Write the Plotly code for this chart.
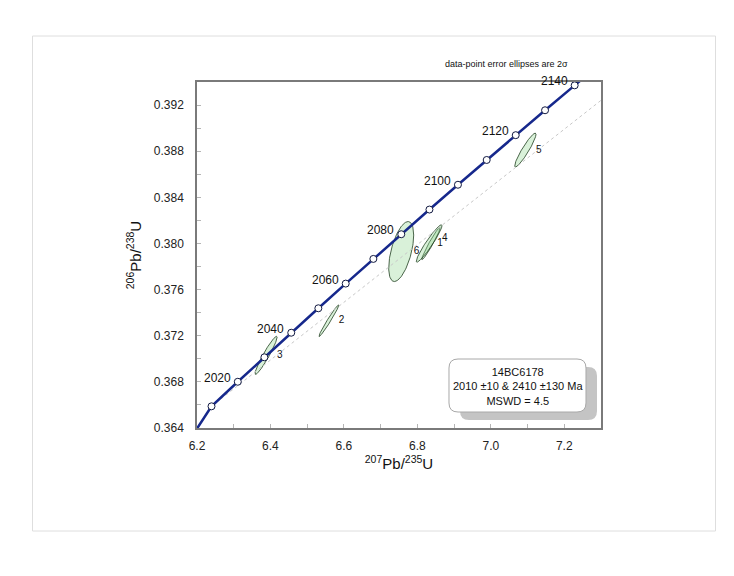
import numpy as np
import plotly.graph_objects as go

# concordia age marks (Ma) and their ratios
conc_age = [2010, 2020, 2030, 2040, 2050, 2060, 2070, 2080, 2090, 2100, 2110, 2120, 2130, 2140]
conc_x = [6.2395, 6.3111, 6.3835, 6.4566, 6.5304, 6.6049, 6.6802, 6.7562, 6.8329, 6.9105,
          6.9888, 7.0678, 7.1477, 7.2283]
conc_y = [0.36588, 0.36801, 0.37013, 0.37226, 0.37438, 0.37652, 0.37866, 0.38080, 0.38294,
          0.38509, 0.38724, 0.38939, 0.39155, 0.39371]
# curve continues a little past the first/last marks (clipped by axes)
line_x = [6.1685] + conc_x + [7.3098]
line_y = [0.36240] + conc_y + [0.39587]

# discordia: lower intercept 2010 Ma -> upper intercept 2410 Ma
disc_x = [6.2395, 9.7346]
disc_y = [0.36588, 0.45331]

# analyses (2 sigma errors)
spot = ['1', '2', '3', '4', '5', '6']
pb207_u235 = [6.837, 6.559, 6.388, 6.832, 7.094, 6.756]
pb207_err = [0.025, 0.027, 0.030, 0.035, 0.029, 0.034]
pb206_u238 = [0.3800, 0.3733, 0.3703, 0.3800, 0.3881, 0.3793]
pb206_err = [0.00140, 0.00137, 0.00165, 0.00162, 0.00147, 0.00260]
rho = [0.97, 0.98, 0.95, 0.95, 0.93, 0.55]

label_pos = ['middle center', 'middle right', 'middle right', 'top right', 'middle right', 'middle right']

FONT = 'Arial, Liberation Sans, sans-serif'
W, H = 734, 576
# plot area as seen in the page (page has an 8px body margin)
L, T, PW, PH = 197, 82, 404, 346
PAGE = 8


def px(x):
    return (x - L) / PW


def py(y):
    return (T + PH - y) / PH


def rounded_box(x0, y0, x1, y1, r):
    pts = [('M', [(x0 + r, y0)]), ('L', [(x1 - r, y0)]), ('Q', [(x1, y0), (x1, y0 + r)]),
           ('L', [(x1, y1 - r)]), ('Q', [(x1, y1), (x1 - r, y1)]), ('L', [(x0 + r, y1)]),
           ('Q', [(x0, y1), (x0, y1 - r)]), ('L', [(x0, y0 + r)]), ('Q', [(x0, y0), (x0 + r, y0)])]
    s = ''
    for cmd, p in pts:
        s += cmd + ' '.join(f'{px(a):.5f},{py(b):.5f}' for a, b in p) + ' '
    return s + 'Z'


fig = go.Figure()

t = np.linspace(0, 2 * np.pi, 120)
for i in range(len(spot)):
    ex = pb207_err[i]
    ey = pb206_err[i]
    r = rho[i]
    ex_pts = pb207_u235[i] + ex * np.cos(t)
    ey_pts = pb206_u238[i] + ey * (r * np.cos(t) + np.sqrt(1 - r ** 2) * np.sin(t))
    fig.add_trace(go.Scatter(
        x=ex_pts, y=ey_pts, mode='lines', fill='toself',
        fillcolor='rgba(150,215,150,0.36)',
        line=dict(color='#1f3f1f', width=0.8), hoverinfo='skip'
    ))

fig.add_trace(go.Scatter(
    x=[pb207_u235[i] + pb207_err[i] for i in range(len(spot))],
    y=pb206_u238, mode='text', text=spot, textposition=label_pos,
    textfont=dict(family=FONT, size=10, color='#111111')
))

fig.add_trace(go.Scatter(
    x=disc_x, y=disc_y, mode='lines',
    line=dict(color='#c8c8c8', width=1, dash='dot')
))

fig.add_trace(go.Scatter(
    x=line_x, y=line_y, mode='lines',
    line=dict(color='#16288c', width=2.5)
))

fig.add_trace(go.Scatter(
    x=conc_x, y=conc_y, mode='markers',
    marker=dict(symbol='circle', size=7, color='white', line=dict(color='#101840', width=1))
))

# age labels every 20 Ma, a touch above-left of the marks
for a, xv, yv in zip(conc_age, conc_x, conc_y):
    if a % 20 == 0:
        fig.add_annotation(x=xv, y=yv, text=str(a), showarrow=False,
                           xanchor='right', yanchor='middle', xshift=-5, yshift=4,
                           font=dict(family=FONT, size=12, color='#111111'))

# outer page frame
fig.add_shape(type='rect', xref='paper', yref='paper',
              x0=px(32.5), x1=px(715.5), y0=py(531), y1=py(36),
              line=dict(color='#dedede', width=1), layer='below')

# result box with shadow
fig.add_shape(type='path', xref='paper', yref='paper',
              path=rounded_box(460, 367, 597, 420, 9),
              fillcolor='#c4c4c4', line=dict(width=0))
fig.add_shape(type='path', xref='paper', yref='paper',
              path=rounded_box(449, 359, 586, 412, 9),
              fillcolor='white', line=dict(color='#a8a8a8', width=1))

fig.add_annotation(
    x=px(517.5), y=py(386.5), xref='paper', yref='paper', showarrow=False,
    xanchor='center', yanchor='middle',
    text='14BC6178<br>2010 ±10 &amp; 2410 ±130 Ma<br>MSWD = 4.5',
    font=dict(family=FONT, size=11, color='#111111'), align='center'
)

fig.add_annotation(
    x=px(506), y=py(64), xref='paper', yref='paper', showarrow=False,
    xanchor='center', yanchor='middle',
    text='data-point error ellipses are 2σ',
    font=dict(family=FONT, size=9, color='#111111')
)

axis_common = dict(
    showgrid=False, zeroline=False, showline=True, mirror=True,
    linecolor='#7a7a7a', linewidth=1.5,
    ticks='inside', ticklen=4, tickcolor='#b5b5b5', tickwidth=1,
    tickfont=dict(family=FONT, size=12, color='#222222'),
)

fig.update_xaxes(
    range=[6.2, 7.3], tick0=6.2, dtick=0.2, tickformat='.1f',
    minor=dict(dtick=0.1, tick0=6.2, ticks='inside', ticklen=4, tickcolor='#b5b5b5'),
    ticklabelstandoff=6,
    title=dict(text='<sup>207</sup>Pb/<sup>235</sup>U', standoff=3,
               font=dict(family=FONT, size=15, color='#111111')),
    **axis_common
)
fig.update_yaxes(
    range=[0.364, 0.394], tick0=0.364, dtick=0.004, tickformat='.3f',
    minor=dict(dtick=0.002, tick0=0.364, ticks='inside', ticklen=4, tickcolor='#b5b5b5'),
    ticklabelstandoff=9,
    title=dict(text='<sup>206</sup>Pb/<sup>238</sup>U', standoff=9,
               font=dict(family=FONT, size=15, color='#111111')),
    **axis_common
)

fig.update_layout(
    width=W, height=H,
    margin=dict(l=L - PAGE, r=W - (L - PAGE) - PW, t=T - PAGE, b=H - (T - PAGE) - PH),
    plot_bgcolor='white', paper_bgcolor='white',
    showlegend=False,
    font=dict(family=FONT)
)

fig.write_html('out.html')
